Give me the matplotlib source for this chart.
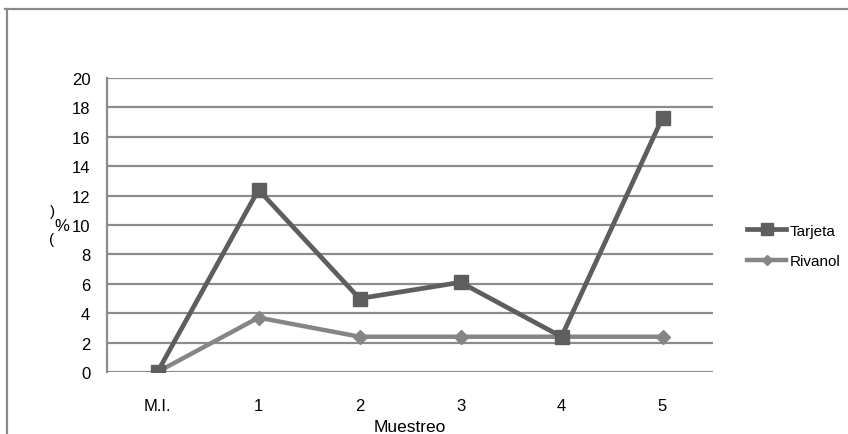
import matplotlib
matplotlib.use("Agg")
import matplotlib.pyplot as plt
from matplotlib.lines import Line2D

plt.rcParams["font.family"] = ["Liberation Sans", "DejaVu Sans"]

categorias = ["M.I.", "1", "2", "3", "4", "5"]
tarjeta = [0, 12.4, 5.0, 6.1, 2.4, 17.3]
rivanol = [0, 3.7, 2.4, 2.4, 2.4, 2.4]
y_ticks = list(range(0, 21, 2))

W, H = 848, 435
fig = plt.figure(figsize=(W / 100, H / 100), dpi=100)
ax = fig.add_axes([107 / W, 1 - 373 / H, (713 - 107) / W, (373 - 79) / H])

grid_color = "#8c8c8c"
x = list(range(len(categorias)))

ax.plot(x, rivanol, color="#858585", lw=3.2, marker="D", ms=7,
        mec="#858585", mfc="#858585", label="Rivanol", zorder=3)
ax.plot(x, tarjeta, color="#5e5e5e", lw=3.4, marker="s", ms=10,
        mec="#5e5e5e", mfc="#5e5e5e", label="Tarjeta", zorder=4)

ax.set_xlim(-0.5, len(categorias) - 0.5)
ax.set_ylim(0, 20)
ax.set_yticks(y_ticks)
ax.set_xticks(x)
ax.set_xticklabels(categorias)
ax.yaxis.grid(True, color=grid_color, lw=1.6)
ax.set_axisbelow(True)
for side in ["top", "right", "bottom"]:
    ax.spines[side].set_visible(False)
ax.spines["left"].set_color(grid_color)
ax.spines["left"].set_linewidth(1.6)
ax.tick_params(axis="y", length=0, pad=12, labelsize=12)
ax.tick_params(axis="x", length=0, pad=19, labelsize=12)

# leyenda a la derecha, Tarjeta primero
handles, labels = ax.get_legend_handles_labels()
fig.legend(handles[::-1], labels[::-1], loc="center left",
           bbox_to_anchor=(733 / W, 1 - 247 / H), frameon=False,
           fontsize=11, handlelength=2.6, handletextpad=0.2,
           labelspacing=1.1, markerscale=0.8)

# etiqueta del eje y: "%" entre paréntesis
fig.text(62 / W, 1 - 227 / H, "%", fontsize=12, ha="center", va="center")
fig.text(52 / W, 1 - 212 / H, ")", fontsize=11, ha="center", va="center")
fig.text(52 / W, 1 - 240 / H, "(", fontsize=11, ha="center", va="center")

fig.text(410 / W, 1 - 428 / H, "Muestreo", fontsize=12.5,
         ha="center", va="center")

# marco exterior (arriba e izquierda)
fig.add_artist(Line2D([5 / W, 1], [1 - 10 / H] * 2, color="#8a8a8a", lw=1.6))
fig.add_artist(Line2D([7 / W] * 2, [1 - 10 / H, 0], color="#8a8a8a", lw=1.6))

fig.savefig("out.png", dpi=100)
